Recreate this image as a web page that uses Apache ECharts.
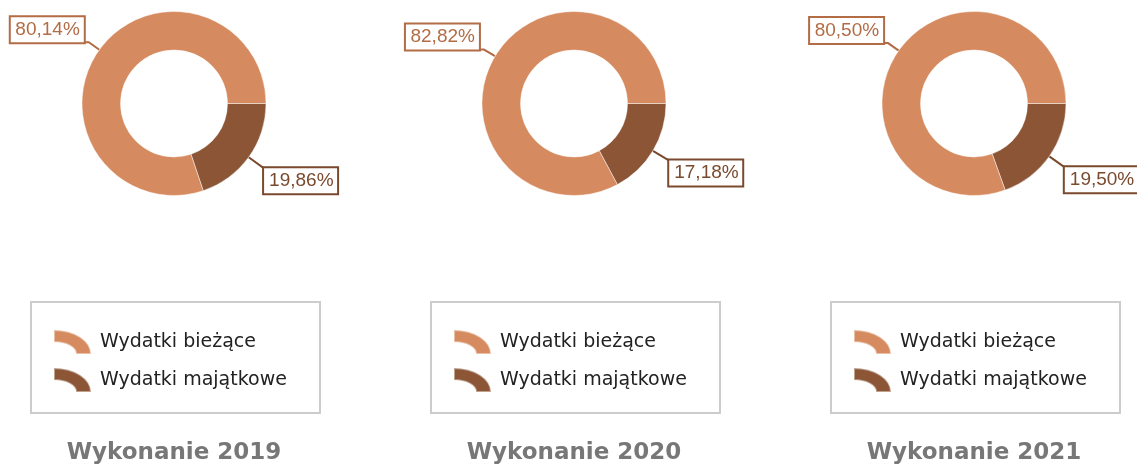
<!DOCTYPE html>
<html>
<head>
<meta charset="utf-8">
<script src="https://cdn.jsdelivr.net/npm/echarts@6/dist/echarts.min.js"></script>
<style>
  html, body { margin: 0; padding: 0; background: #fff; }
  #chart { width: 1137px; height: 465px; }
</style>
</head>
<body>
<div id="chart"></div>
<script>
// dane: udział wydatków w latach (%)
const years = ['2019', '2020', '2021'];
const seriesNames = ['Wydatki bieżące', 'Wydatki majątkowe'];
const biezace = [80.14, 82.82, 80.50];
const majatkowe = [19.86, 17.18, 19.50];

const centersX = [174, 574, 974];
const colors = ['#d68a5f', '#8b5536'];
const labelColors = ['#b26c46', '#7a4a2e'];
const iconPath = 'path://M0,0 A100,100 0 0 1 100,100 L60,100 A60,50 0 0 0 0,50 Z';

const fmt = v => v.toFixed(2).replace('.', ',') + '%';

const series = years.map((y, i) => ({
  name: 'Wykonanie ' + y,
  type: 'pie',
  center: [centersX[i], 103.5],
  radius: [53.5, 92],
  startAngle: 0,
  clockwise: true,
  silent: true,
  itemStyle: { borderColor: 'rgba(255,255,255,0.45)', borderWidth: 1 },
  label: {
    show: true,
    position: 'outside',
    formatter: p => fmt(p.value),
    fontFamily: 'Liberation Sans, Arial, sans-serif',
    fontSize: 19,
    lineHeight: 19,
    width: 64,
    overflow: 'none',
    backgroundColor: '#fff',
    borderWidth: 2,
    padding: [3, 4, 3, 5]
  },
  labelLayout: p => {
    const pts = p.labelLinePoints;
    const end = pts[pts.length - 1];
    const isLeft = end[0] < pts[0][0];
    return {
      x: end[0], y: end[1],
      align: isLeft ? 'right' : 'left',
      verticalAlign: isLeft ? 'bottom' : 'top',
      labelLinePoints: pts
    };
  },
  // kolejność: majątkowe najpierw, żeby zaczynały się od godziny 3
  data: [
    {
      name: seriesNames[1], value: majatkowe[i],
      itemStyle: { color: colors[1] },
      label: { color: labelColors[1], borderColor: labelColors[1] },
      labelLine: { length: 19, length2: 0, lineStyle: { color: labelColors[1], width: 2 } }
    },
    {
      name: seriesNames[0], value: biezace[i],
      itemStyle: { color: colors[0] },
      label: { color: labelColors[0], borderColor: labelColors[0] },
      labelLine: { length: 13, length2: 5, lineStyle: { color: labelColors[0], width: 2 } }
    }
  ]
}));

const legends = years.map((y, i) => ({
  data: seriesNames,
  orient: 'vertical',
  left: centersX[i] - 121,
  top: 329,
  padding: 0,
  itemWidth: 37,
  itemHeight: 24,
  itemGap: 12,
  icon: iconPath,
  symbolKeepAspect: false,
  selectedMode: false,
  formatter: name => '{t|' + name + '}',
  textStyle: {
    fontFamily: 'DejaVu Sans, Verdana, sans-serif',
    fontSize: 19,
    color: '#222',
    rich: {
      t: {
        fontFamily: 'DejaVu Sans, Verdana, sans-serif',
        fontSize: 19,
        color: '#222',
        padding: [0, 0, 0, 4]
      }
    }
  }
}));

const titles = years.map((y, i) => ({
  text: 'Wykonanie ' + y,
  left: centersX[i],
  textAlign: 'center',
  top: 442,
  padding: 0,
  textStyle: {
    fontFamily: 'DejaVu Sans, Verdana, sans-serif',
    fontSize: 23,
    fontWeight: 'bold',
    color: '#777'
  }
}));

const boxes = years.map((y, i) => ({
  type: 'rect',
  shape: { x: centersX[i] - 143, y: 302, width: 289, height: 111 },
  style: { fill: 'none', stroke: '#cccccc', lineWidth: 2 },
  silent: true
}));

const chart = echarts.init(document.getElementById('chart'));
chart.setOption({
  animation: false,
  color: colors,
  title: titles,
  legend: legends,
  graphic: boxes,
  series: series
});
</script>
</body>
</html>
